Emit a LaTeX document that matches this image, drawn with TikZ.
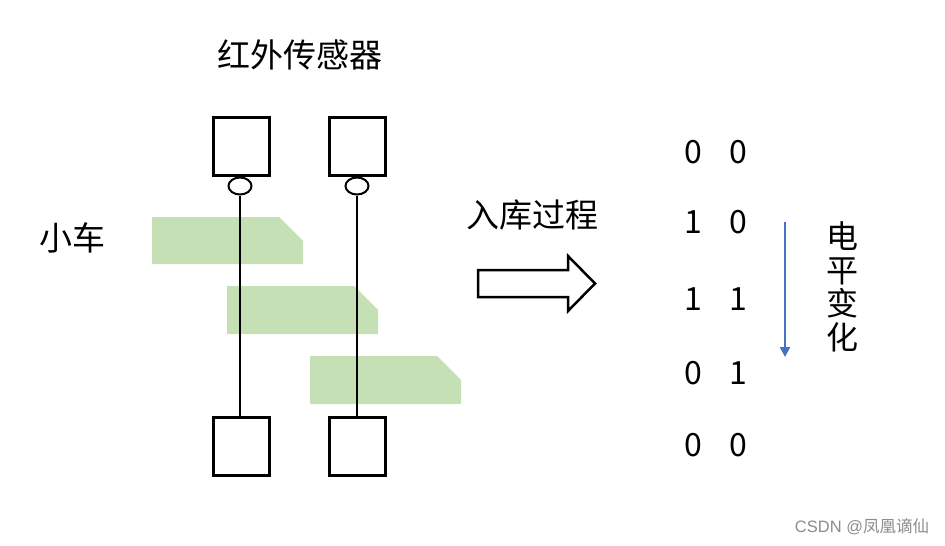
\documentclass[tikz,border=0pt]{standalone}
\usepackage{fontspec}
\setmainfont{Noto Sans CJK SC}
\newfontfamily\wmfont{Liberation Sans}
\usetikzlibrary{shapes.geometric,arrows.meta}
\definecolor{carg}{HTML}{C5E0B4}
\definecolor{arrblue}{HTML}{4472C4}
\begin{document}
\begin{tikzpicture}[x=1pt,y=-1pt,
  sensorbox/.style={draw,line width=3pt,minimum width=56pt,minimum height=58pt,inner sep=0pt},
  lens/.style={draw,ellipse,line width=2pt,minimum width=23pt,minimum height=17pt,inner sep=0pt},
  beam/.style={line width=1.2pt},
  car/.style={fill=carg},
  bigtxt/.style={font=\fontsize{33}{34}\selectfont,inner sep=0pt},
  digit/.style={font=\fontsize{32}{34}\selectfont,inner sep=0pt}]
\useasboundingbox (0,0) rectangle (945,546);
% green cars
\fill[car] (152,217) -- (279,217) -- (303,241) -- (303,264) -- (152,264) -- cycle;
\fill[car] (227,286) -- (354,286) -- (378,310) -- (378,334) -- (227,334) -- cycle;
\fill[car] (310,356) -- (437,356) -- (461,380) -- (461,404) -- (310,404) -- cycle;
% sensors
\node[sensorbox] (tL) at (241,146) {};
\node[sensorbox] (tR) at (357,146) {};
\node[lens] (cL) at (240,186) {};
\node[lens] (cR) at (357,186) {};
\node[sensorbox] (bL) at (241,446) {};
\node[sensorbox] (bR) at (357,446) {};
\draw[beam] (cL.south) -- (cL.south |- bL.north);
\draw[beam] (cR.south) -- (cR.south |- bR.north);
% texts
\node[bigtxt] (title) at (300,55) {红外传感器};
\node[bigtxt] (car) at (72,238) {小车};
\node[bigtxt] (proc) at (532,215) {入库过程};
% big arrow
\coordinate (a0) at (478,270);
\draw[line width=2.5pt,line join=miter] (a0) -- (568,270) -- (568,256) -- (595,283.5) -- (568,311) -- (568,297) -- (478,297) -- cycle;
% digits
\foreach \y/\a/\b [count=\i] in {152/0/0,222/1/0,299/1/1,373/0/1,445/0/0}{
  \node[digit] (l\i) at (693,\y) {\a};
  \node[digit] (r\i) at (738,\y) {\b};
}
% level change arrow
\coordinate (vs) at (785,222);
\coordinate (ve) at (785,357);
\draw[arrblue,line width=2.5pt,-{Triangle[length=10pt,width=10pt]}] (vs) -- (ve);
\node[bigtxt,align=center,font=\fontsize{32}{33.5}\selectfont] (lvl) at (842,287) {电\\平\\变\\化};
% watermark
\node[inner sep=0pt,text=black!45,font=\fontsize{16.5}{18}\selectfont] (wm) at (862,527) {\wmfont CSDN @\normalfont 凤凰谪仙};
\end{tikzpicture}
\end{document}
